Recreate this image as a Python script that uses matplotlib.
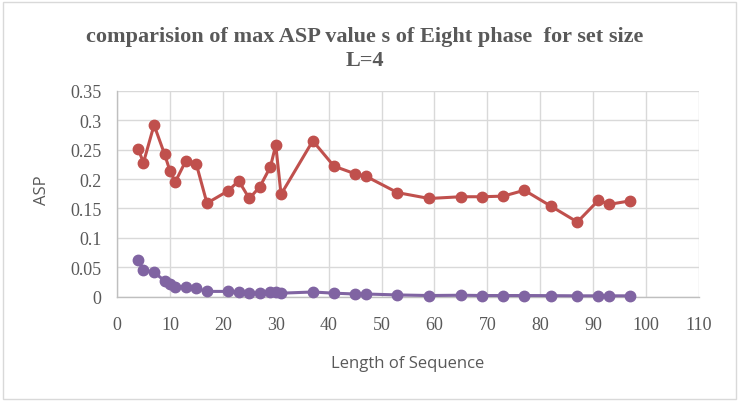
import matplotlib
matplotlib.use("Agg")
import matplotlib.pyplot as plt
from matplotlib.patches import Rectangle

# sequence lengths and max ASP values
lengths = [4, 5, 7, 9, 10, 11, 13, 15, 17, 21, 23, 25, 27, 29, 30, 31, 37, 41,
           45, 47, 53, 59, 65, 69, 73, 77, 82, 87, 91, 93, 97]
asp_red = [0.251, 0.228, 0.292, 0.242, 0.214, 0.195, 0.231, 0.225, 0.159, 0.180,
           0.197, 0.167, 0.187, 0.221, 0.258, 0.174, 0.265, 0.222, 0.209, 0.205,
           0.177, 0.167, 0.170, 0.170, 0.171, 0.181, 0.154, 0.127, 0.164, 0.157,
           0.163]
asp_purple = [0.063, 0.045, 0.0415, 0.027, 0.0216, 0.017, 0.017, 0.014, 0.009, 0.009,
              0.008, 0.006, 0.006, 0.0085, 0.0085, 0.006, 0.008, 0.006, 0.0046, 0.0046,
              0.003, 0.002, 0.0025, 0.002, 0.002, 0.002, 0.0018, 0.0015, 0.0015, 0.0015,
              0.0015]

xticks = list(range(0, 111, 10))
yticks = [0, 0.05, 0.1, 0.15, 0.2, 0.25, 0.3, 0.35]
ytick_labels = ["0", "0.05", "0.1", "0.15", "0.2", "0.25", "0.3", "0.35"]

fig = plt.figure(figsize=(7.43, 4.10), dpi=100)
fig.patches.append(Rectangle((0.004, 0.025), 0.986, 0.968, transform=fig.transFigure,
                             fill=False, edgecolor="#D9D9D9", linewidth=1.0))
ax = fig.add_axes([0.1575, 0.2739, 0.7833, 0.502])

ax.plot(lengths, asp_red, color="#C0504D", linewidth=2.2, marker="o",
        markersize=7.5, zorder=3, clip_on=False)
ax.plot(lengths, asp_purple, color="#8064A2", linewidth=2.2, marker="o",
        markersize=7.5, zorder=3, clip_on=False)

ax.set_xlim(0, 110)
ax.set_ylim(0, 0.35)
ax.set_xticks(xticks)
ax.set_yticks(yticks)
ax.set_yticklabels(ytick_labels)
ax.grid(True, color="#D9D9D9", linewidth=1.0)
ax.set_axisbelow(True)
for side in ["top", "right"]:
    ax.spines[side].set_visible(False)
for side in ["left", "bottom"]:
    ax.spines[side].set_color("#BFBFBF")
    ax.spines[side].set_linewidth(1.0)
ax.tick_params(length=0, labelcolor="#595959")
ax.tick_params(axis="x", pad=14)
ax.tick_params(axis="y", pad=11)
for lab in ax.get_xticklabels() + ax.get_yticklabels():
    lab.set_family("Liberation Serif")
    lab.set_fontsize(13)

fig.text(408 / 743, 1 - 364 / 410, "Length of Sequence", ha="center", va="center",
         family="Open Sans", fontsize=12, color="#595959")
fig.text(41.5 / 743, 1 - 190 / 410, "ASP", ha="center", va="center", rotation=90,
         family="Open Sans", fontsize=12, color="#595959")

fig.text(365 / 743, 1 - 37 / 410, "comparision of max ASP value s of Eight phase  for set size",
         ha="center", va="center", family="Liberation Serif", fontweight="bold",
         fontsize=16, color="#595959")
fig.text(365 / 743, 1 - 61 / 410, "L=4", ha="center", va="center", family="Liberation Serif",
         fontweight="bold", fontsize=16, color="#595959")

fig.savefig("out.png", dpi=100)
